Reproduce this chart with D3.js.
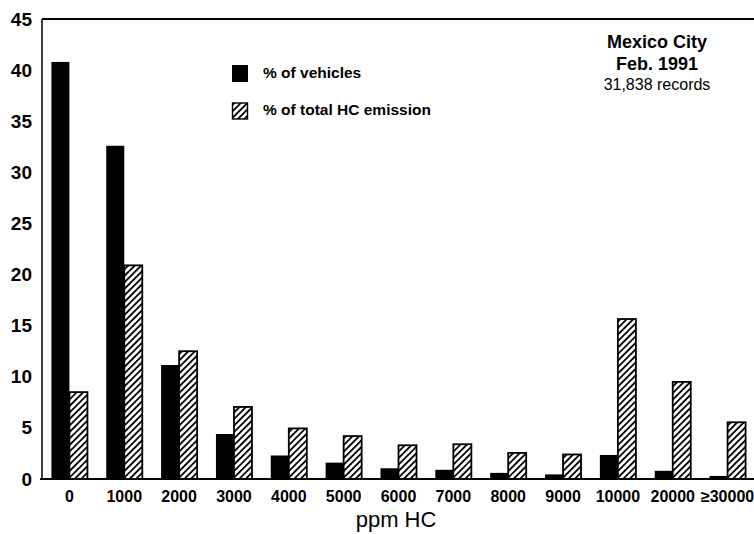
<html>
  <head>
    <script src="https://cdn.jsdelivr.net/npm/d3@7"></script>
    <style>
      body { margin: 0; background: #fff; }
      text { font-family: "Liberation Sans", Arial, sans-serif; fill: #000; }
    </style>
  </head>
  <body>
    <svg width="754" height="534"></svg>

    <script type="text/javascript">
      // ppm HC classes
      var categories = ['0', '1000', '2000', '3000', '4000', '5000', '6000', '7000', '8000', '9000', '10000', '20000', '\u226530000'];
      // % of vehicles in each class
      var vehicles = [40.8, 32.6, 11.15, 4.4, 2.3, 1.6, 1.05, 0.9, 0.6, 0.45, 2.35, 0.8, 0.3];
      // % of total HC emission in each class
      var emission = [8.5, 20.9, 12.5, 7.05, 4.95, 4.2, 3.3, 3.4, 2.55, 2.4, 15.65, 9.5, 5.55];
      var yTicks = [0, 5, 10, 15, 20, 25, 30, 35, 40, 45];
      var seriesNames = ['% of vehicles', '% of total HC emission'];

      var svg = d3.select('svg');

      // hatch pattern for the emission bars
      var pat = svg.append('defs').append('pattern')
        .attr('id', 'hatch')
        .attr('patternUnits', 'userSpaceOnUse')
        .attr('width', 4.6).attr('height', 4.6)
        .attr('patternTransform', 'rotate(45)');
      pat.append('rect').attr('width', 4.6).attr('height', 4.6).attr('fill', '#fff');
      pat.append('line')
        .attr('x1', 0).attr('y1', 0).attr('x2', 0).attr('y2', 4.6)
        .attr('stroke', '#000').attr('stroke-width', 3.6);

      var plotLeft = 42, plotRight = 755, plotTop = 19, plotBottom = 479;

      var x = d3.scaleBand()
        .domain(categories)
        .range([plotLeft, plotRight])
        .paddingInner(0.343)
        .paddingOuter(0.1715);

      var x1 = d3.scaleBand()
        .domain(seriesNames)
        .range([0, x.bandwidth()]);

      var y = d3.scaleLinear()
        .domain([0, 45])
        .range([plotBottom, plotTop]);

      // bars
      var groups = svg.selectAll('g.grp')
        .data(categories)
        .enter()
        .append('g')
        .attr('class', 'grp')
        .attr('transform', function(d) { return 'translate(' + x(d) + ',0)'; });

      groups.append('rect')
        .attr('x', x1(seriesNames[0]))
        .attr('width', x1.bandwidth())
        .attr('y', function(d, i) { return y(vehicles[i]); })
        .attr('height', function(d, i) { return y(0) - y(vehicles[i]); })
        .attr('fill', '#000');

      groups.append('rect')
        .attr('x', x1(seriesNames[1]))
        .attr('width', x1.bandwidth())
        .attr('y', function(d, i) { return y(emission[i]); })
        .attr('height', function(d, i) { return y(0) - y(emission[i]); })
        .attr('fill', 'url(#hatch)')
        .attr('stroke', '#000')
        .attr('stroke-width', 1.8);

      // frame: left axis, top line, baseline
      svg.append('line')
        .attr('x1', plotLeft).attr('x2', plotLeft).attr('y1', plotTop).attr('y2', plotBottom)
        .attr('stroke', '#000').attr('stroke-width', 1.5);
      svg.append('line')
        .attr('x1', plotLeft).attr('x2', 754).attr('y1', plotTop).attr('y2', plotTop)
        .attr('stroke', '#000').attr('stroke-width', 2);
      svg.append('line')
        .attr('x1', plotLeft - 2).attr('x2', 754).attr('y1', plotBottom).attr('y2', plotBottom)
        .attr('stroke', '#000').attr('stroke-width', 2.2);

      // y axis labels
      var yAxis = d3.axisLeft(y).tickValues(yTicks).tickSize(0).tickPadding(10);
      var gy = svg.append('g')
        .attr('transform', 'translate(' + plotLeft + ',0)')
        .call(yAxis);
      gy.select('.domain').remove();
      gy.selectAll('text')
        .attr('font-size', 19)
        .attr('font-weight', 'bold')
        .style('font-family', '"Liberation Sans", Arial, sans-serif');

      // x axis labels
      var xAxis = d3.axisBottom(x).tickSize(0).tickPadding(12);
      var gx = svg.append('g')
        .attr('transform', 'translate(0,' + plotBottom + ')')
        .call(xAxis);
      gx.select('.domain').remove();
      gx.selectAll('text')
        .attr('font-size', 16)
        .attr('font-weight', 'bold')
        .style('font-family', '"Liberation Sans", Arial, sans-serif');

      // axis title
      svg.append('text')
        .attr('x', 396).attr('y', 527)
        .attr('text-anchor', 'middle')
        .attr('font-size', 22)
        .text('ppm HC');

      // legend
      var legend = svg.append('g').attr('transform', 'translate(232,65)');
      legend.append('rect')
        .attr('x', 0).attr('y', 0).attr('width', 16).attr('height', 17)
        .attr('fill', '#000');
      legend.append('rect')
        .attr('x', 0.5).attr('y', 38).attr('width', 15).attr('height', 16)
        .attr('fill', 'url(#hatch)').attr('stroke', '#000').attr('stroke-width', 1.4);
      legend.selectAll('text.lg')
        .data(seriesNames)
        .enter()
        .append('text')
        .attr('class', 'lg')
        .attr('x', 31)
        .attr('y', function(d, i) { return 13 + i * 37; })
        .attr('font-size', 15.5)
        .attr('font-weight', 'bold')
        .text(function(d) { return d; });

      // annotation
      svg.append('text')
        .attr('x', 657).attr('y', 48)
        .attr('text-anchor', 'middle')
        .attr('font-size', 18).attr('font-weight', 'bold')
        .text('Mexico City');
      svg.append('text')
        .attr('x', 657).attr('y', 70)
        .attr('text-anchor', 'middle')
        .attr('font-size', 18).attr('font-weight', 'bold')
        .text('Feb. 1991');
      svg.append('text')
        .attr('x', 657).attr('y', 90)
        .attr('text-anchor', 'middle')
        .attr('font-size', 16)
        .text('31,838 records');
    </script>
  </body>
</html>
